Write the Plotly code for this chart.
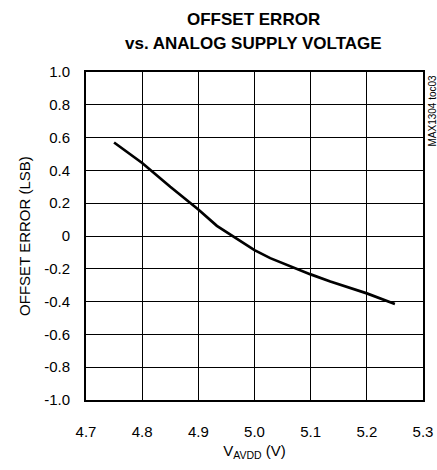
import plotly.graph_objects as go

# Data
supply_voltage = [4.75, 4.80, 4.85, 4.90, 4.933, 5.00, 5.028, 5.07, 5.10, 5.135, 5.20, 5.25]
offset_error_lsb = [0.57, 0.445, 0.30, 0.162, 0.062, -0.086, -0.135, -0.195, -0.234, -0.278, -0.35, -0.414]

x_ticks = [4.7, 4.8, 4.9, 5.0, 5.1, 5.2, 5.3]
x_tick_labels = ["4.7", "4.8", "4.9", "5.0", "5.1", "5.2", "5.3"]
y_ticks = [1.0, 0.8, 0.6, 0.4, 0.2, 0.0, -0.2, -0.4, -0.6, -0.8, -1.0]
y_tick_labels = ["1.0", "0.8", "0.6", "0.4", "0.2", "0", "-0.2", "-0.4", "-0.6", "-0.8", "-1.0"]

title_lines = ["OFFSET ERROR", "vs. ANALOG SUPPLY VOLTAGE"]

FONT = "Liberation Sans, Arial, Helvetica, sans-serif"

fig = go.Figure()
fig.add_trace(go.Scatter(
    x=supply_voltage, y=offset_error_lsb, mode="lines",
    line=dict(color="black", width=2.7),
    showlegend=False, hoverinfo="skip",
))

fig.update_layout(
    width=437, height=470,
    margin=dict(l=86, r=14, t=72, b=70, autoexpand=False),
    paper_bgcolor="white", plot_bgcolor="white",
    font=dict(family=FONT, color="black", size=15),
)

for line_text, shift in zip(title_lines, [53, 29]):
    fig.add_annotation(
        text="<b>" + line_text + "</b>", xref="paper", yref="paper",
        x=0.497, y=1.0, xanchor="center", yanchor="middle", yshift=shift,
        showarrow=False, font=dict(family=FONT, size=17, color="black"),
    )

fig.update_xaxes(
    range=[4.7, 5.3], tickvals=x_ticks, ticktext=x_tick_labels,
    showgrid=True, gridcolor="black", gridwidth=1,
    showline=True, linecolor="black", linewidth=2, mirror=True,
    ticks="", ticklabelstandoff=17, zeroline=False, automargin=False,
    title=dict(text="V<sub>AVDD</sub> (V)", font=dict(size=15), standoff=6),
    tickfont=dict(size=15),
)
fig.update_yaxes(
    range=[-1.0, 1.0], tickvals=y_ticks, ticktext=y_tick_labels,
    showgrid=True, gridcolor="black", gridwidth=1,
    showline=True, linecolor="black", linewidth=2, mirror=True,
    ticks="", ticklabelstandoff=11, zeroline=False, automargin=False,
    title=dict(text="OFFSET ERROR (LSB)", font=dict(size=15), standoff=10),
    tickfont=dict(size=15),
)

fig.add_annotation(
    text="MAX1304 toc03", xref="paper", yref="paper",
    x=1.0, y=1.0, xanchor="left", yanchor="top", xshift=1, yshift=-1,
    textangle=-90, showarrow=False,
    font=dict(family=FONT, size=10, color="black"),
)

fig.write_html(
    "out.html",
    config={"displayModeBar": False, "responsive": False},
    post_script="document.body.style.margin='0';document.documentElement.style.overflow='hidden';",
)
